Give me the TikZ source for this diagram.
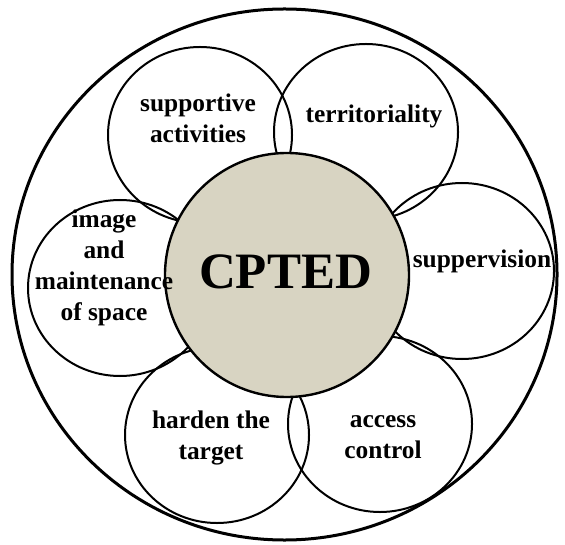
\documentclass[tikz,border=0pt]{standalone}
\usepackage{fontspec}
\setmainfont{Liberation Serif}
\usepackage{xcolor}
\usetikzlibrary{shapes.geometric}
\definecolor{cptedfill}{RGB}{216,212,194}

\begin{document}
\begin{tikzpicture}[x=0.5pt,y=-0.5pt,
        petal/.style={ellipse,draw,line width=1pt,inner sep=0pt,minimum width=92pt,minimum height=88pt},
        word/.style={font=\fontsize{12.7}{15.5}\selectfont\bfseries,align=center,inner sep=0pt}]
        \useasboundingbox (0,0) rectangle (565,544);
        \node[ellipse,draw,line width=1.5pt,inner sep=0pt,minimum width=272.5pt,minimum height=265.5pt] (outer) at (284.5,274.5) {};
        \node[petal] (sa) at (200,135) {}; % supportive activities
        \node[petal] (te) at (366,132) {}; % territoriality
        \node[petal] (su) at (462,271) {}; % suppervision
        \node[petal] (ac) at (380,424) {}; % access control
        \node[petal] (ha) at (217,435) {}; % harden the target
        \node[petal] (im) at (120,288) {}; % image and maintenance
        \node[circle,draw,fill=cptedfill,line width=1.2pt,inner sep=0pt,minimum size=122pt] (cp) at (287,275) {};
        \node[font=\fontsize{25.5}{30}\selectfont\bfseries] (cptxt) at (285.5,272) {CPTED};
        \node[word] (satxt) at (198,118) {supportive\\activities};
        \node[word] (tetxt) at (374,116) {territoriality};
        \node[word] (sutxt) at (482,261) {suppervision};
        \node[word] (actxt) at (383,437) {access\\control};
        \node[word] (hatxt) at (211,438) {harden the\\target};
        \node[word] (imtxt) at (104,268) {image\\and\\maintenance\\of space};
    \end{tikzpicture}
\end{document}
